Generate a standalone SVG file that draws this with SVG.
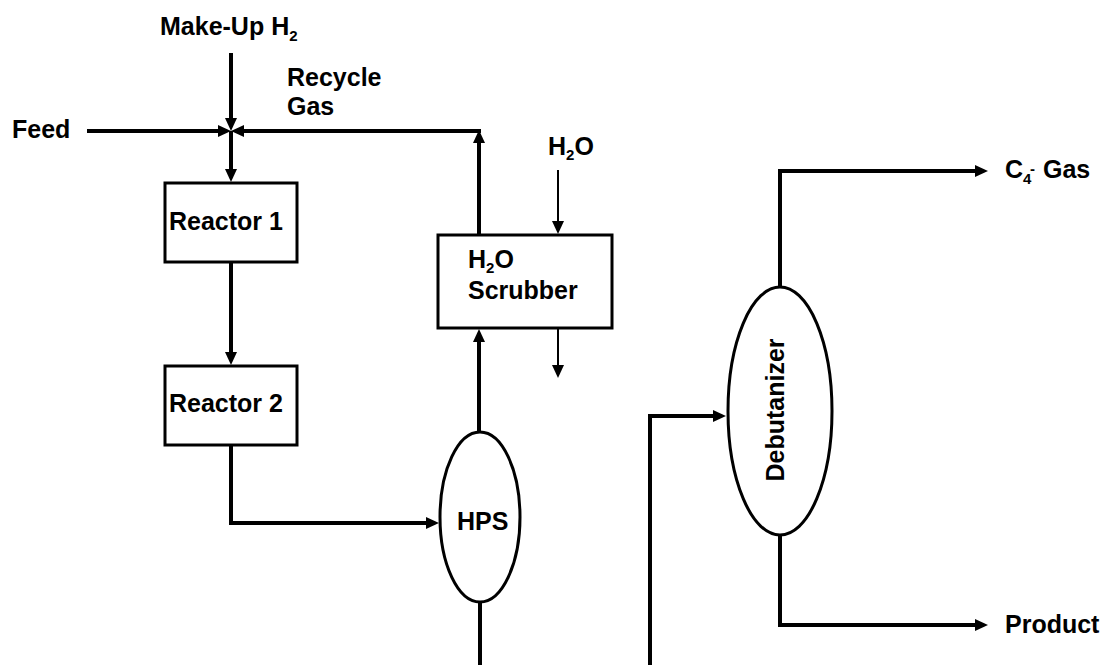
<svg xmlns="http://www.w3.org/2000/svg" width="1108" height="665" viewBox="0 0 1108 665">
<style>
  text { font-family: "Liberation Sans", Arial, sans-serif; font-weight: bold; font-size: 25px; fill: #000; }
  .sub { font-size: 15px; }
  .node { fill: #fff; stroke: #000; stroke-width: 3; }
  .pipe { fill: none; stroke: #000; stroke-width: 4; stroke-linejoin: miter; stroke-linecap: butt; }
  .thin { fill: none; stroke: #000; stroke-width: 2; }
</style>
<defs>
  <marker id="arr" markerUnits="userSpaceOnUse" markerWidth="13" markerHeight="12" viewBox="0 0 13 12" refX="8" refY="6" orient="auto">
    <path d="M0,0 L13,6 L0,12 z" fill="#000"/>
  </marker>
</defs>
<rect width="1108" height="665" fill="#fff"/>

<g id="nodes">
  <g id="reactor1">
    <rect class="node" x="165" y="183" width="132" height="79"/>
    <text x="169" y="230">Reactor 1</text>
  </g>
  <g id="reactor2">
    <rect class="node" x="165" y="366" width="132" height="79"/>
    <text x="169" y="412">Reactor 2</text>
  </g>
  <g id="scrubber">
    <rect class="node" x="438" y="235" width="174" height="93"/>
    <text x="468" y="268">H<tspan class="sub" dy="5">2</tspan><tspan dy="-5">O</tspan></text>
    <text x="468" y="299">Scrubber</text>
  </g>
  <g id="hps">
    <ellipse class="node" cx="480" cy="517" rx="40" ry="85"/>
    <text x="457" y="530">HPS</text>
  </g>
  <g id="debutanizer">
    <ellipse class="node" cx="780" cy="411" rx="52" ry="124"/>
    <text transform="translate(784,410) rotate(-90)" text-anchor="middle">Debutanizer</text>
  </g>
</g>

<g id="labels">
  <text x="160" y="35">Make-Up H<tspan class="sub" dy="6">2</tspan></text>
  <text x="287" y="86">Recycle</text>
  <text x="287" y="115">Gas</text>
  <text x="12" y="138">Feed</text>
  <text x="548" y="155">H<tspan class="sub" dy="5">2</tspan><tspan dy="-5">O</tspan></text>
  <text x="1005" y="178">C<tspan class="sub" dy="6">4</tspan><tspan class="sub" x="1030" dy="-10">-</tspan><tspan x="1036" dy="4"> Gas</tspan></text>
  <text x="1005" y="633">Product</text>
</g>

<g id="connectors">
  <path class="pipe" d="M231,53 V126" marker-end="url(#arr)"/>
  <path class="pipe" d="M87,131 H226" marker-end="url(#arr)"/>
  <path class="pipe" d="M481,131 H236" marker-end="url(#arr)"/>
  <path class="pipe" d="M479,235 V135" marker-end="url(#arr)"/>
  <path class="pipe" d="M231,131 V177" marker-end="url(#arr)"/>
  <path class="pipe" d="M231,262 V360" marker-end="url(#arr)"/>
  <path class="pipe" d="M231,445 V523 H434" marker-end="url(#arr)"/>
  <path class="pipe" d="M479,432 V334" marker-end="url(#arr)"/>
  <path class="pipe" d="M480,602 V665"/>
  <path class="thin" d="M558,170 V229" marker-end="url(#arr)"/>
  <path class="thin" d="M558,328 V373" marker-end="url(#arr)"/>
  <path class="pipe" d="M650,665 V416 H721" marker-end="url(#arr)"/>
  <path class="pipe" d="M780,287 V171 H983" marker-end="url(#arr)"/>
  <path class="pipe" d="M780,535 V625 H983" marker-end="url(#arr)"/>
</g>
</svg>
